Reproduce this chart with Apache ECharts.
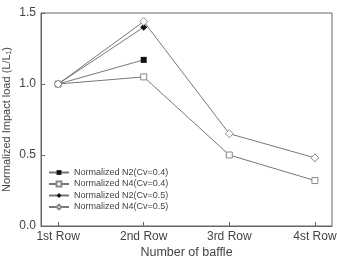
<!DOCTYPE html>
<html><head><meta charset="utf-8">
<script src="https://cdn.jsdelivr.net/npm/echarts@6/dist/echarts.min.js"></script>
<style>html,body{margin:0;padding:0;background:#fff}#c{width:337px;height:257px}</style>
</head><body><div id="c"></div>
<script>
const categories = ['1st Row', '2nd Row', '3rd Row', '4st Row'];
const seriesNames = ['Normalized N2(Cv=0.4)', 'Normalized N4(Cv=0.4)', 'Normalized N2(Cv=0.5)', 'Normalized N4(Cv=0.5)'];
const n2cv04 = [1.0, 1.17, null, null];
const n4cv04 = [1.0, 1.05, 0.50, 0.32];
const n2cv05 = [1.0, 1.40, null, null];
const n4cv05 = [1.0, 1.44, 0.65, 0.48];

const symbols = ['rect', 'rect', 'diamond', 'diamond'];
const filled = [true, false, true, false];
const sizes = [6, 6, 7, 8];
const values = [n2cv04, n4cv04, n2cv05, n4cv05];
const chart = echarts.init(document.getElementById('c'));
const font = 'Liberation Sans, Arial, sans-serif';
chart.setOption({
  animation: false,
  grid: { left: 41, right: 5, top: 13, bottom: 31, show: true, borderColor: '#666', borderWidth: 1,
    containLabel: false, outerBoundsMode: 'none' },
  legend: {
    orient: 'vertical', left: 48, top: 168, padding: 0, itemWidth: 20, itemHeight: 6, itemGap: 2.5,
    textStyle: { fontSize: 9, color: '#444', fontFamily: font },
    data: seriesNames
  },
  xAxis: {
    type: 'value', min: 0.8, max: 4.2,
    name: 'Number of baffle', nameLocation: 'middle', nameGap: 20, nameMoveOverlap: false,
    nameTextStyle: { fontSize: 12.5, color: '#444', fontFamily: font },
    axisLine: { lineStyle: { color: '#666' } },
    axisTick: { inside: true, length: 4, customValues: [1, 2, 3, 4], lineStyle: { color: '#666' } },
    axisLabel: { customValues: [1, 2, 3, 4], fontSize: 12, color: '#444', fontFamily: font, margin: 5,
      formatter: v => categories[Math.round(v) - 1] || '' },
    splitLine: { show: false }
  },
  yAxis: {
    type: 'value', min: 0, max: 1.5, interval: 0.5,
    name: 'Normalized Impact load (L/L\u2081)', nameLocation: 'middle', nameGap: 29, nameMoveOverlap: false,
    nameTextStyle: { fontSize: 11, color: '#444', fontFamily: font },
    axisLine: { show: true, lineStyle: { color: '#666' } },
    axisTick: { inside: true, length: 4, lineStyle: { color: '#666' } },
    axisLabel: { fontSize: 12, color: '#444', fontFamily: font, margin: 5, formatter: v => v.toFixed(1) },
    splitLine: { show: false }
  },
  series: seriesNames.map((name, i) => ({
    name, type: 'line',
    data: values[i].map((v, j) => [j + 1, v]),
    symbol: symbols[i], symbolSize: sizes[i],
    lineStyle: { color: '#777', width: 1 },
    itemStyle: filled[i]
      ? { color: '#111', borderColor: '#111', borderWidth: 0 }
      : { color: '#fff', borderColor: '#888', borderWidth: 1 },
    connectNulls: false
  }))
});
</script></body></html>
